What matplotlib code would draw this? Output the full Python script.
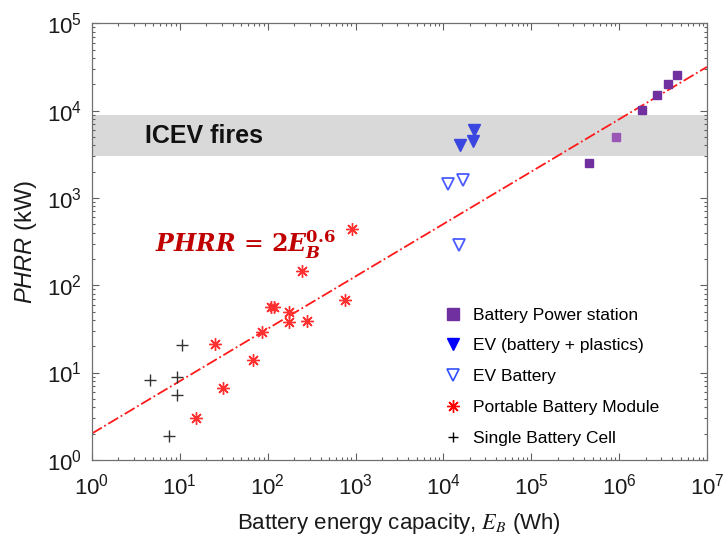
import matplotlib
matplotlib.use("Agg")
import matplotlib.pyplot as plt
import numpy as np
from matplotlib.lines import Line2D
from matplotlib.ticker import LogLocator, NullFormatter

plt.rcParams['font.family'] = ['Liberation Sans', 'DejaVu Sans']
plt.rcParams['mathtext.fontset'] = 'custom'
plt.rcParams['mathtext.rm'] = 'Liberation Sans'
plt.rcParams['mathtext.it'] = 'Liberation Sans:italic'
plt.rcParams['mathtext.bf'] = 'Liberation Sans:bold'

# ---- data ----
station_E = [4.55e5, 1.82e6, 2.7e6, 3.63e6, 4.56e6]
station_P = [2520, 10200, 15200, 20200, 25300]
station2_E = [9.15e5]
station2_P = [5000]

ev_full_E = [22300, 21800, 15400]
ev_full_P = [6070, 4540, 4060]

ev_batt_E = [11200, 16700, 15000]
ev_batt_P = [1450, 1610, 292]

module_E = [24.9, 31, 15.2, 68, 87, 109, 118, 174, 174, 277, 760, 247, 910]
module_P = [21, 6.6, 3.0, 14.1, 28.8, 55.6, 56.5, 48.8, 37.5, 38.8, 67, 145, 437]

cell_E = [10.7, 4.65, 9.2, 9.2, 7.6]
cell_P = [20.6, 8.2, 9.0, 5.5, 1.88]

icev_band = [3000, 8800]
fit_coef = 2.0
fit_exp = 0.6

fig = plt.figure(figsize=(7.23, 5.41), dpi=100)
ax = fig.add_axes([0.127, 0.150, 0.851, 0.807])
ax.set_xscale('log')
ax.set_yscale('log')
ax.set_xlim(1, 1e7)
ax.set_ylim(1, 1e5)

ax.axhspan(icev_band[0], icev_band[1], color='#D9D9D9', zorder=0, lw=0)
ax.text(4.0, np.sqrt(icev_band[0] * icev_band[1]), 'ICEV fires',
        fontsize=18, fontweight='bold', va='center', ha='left', color='#111111')

xf = np.logspace(0, 7, 200)
ax.plot(xf, fit_coef * xf ** fit_exp, color='#FF1A1A', lw=1.3, ls='-.', zorder=2)

ax.plot(station_E, station_P, 's', color='#7030A0', ms=6, zorder=3)
ax.plot(station2_E, station2_P, 's', color='#9A55B5', ms=6, zorder=3)
ax.plot(ev_full_E, ev_full_P, 'v', color='#3A46E0', ms=9, zorder=3)
ax.plot(ev_batt_E, ev_batt_P, 'v', mfc='none', mec='#4A5CFF', mew=1.3, ms=9, zorder=3)
ax.plot(module_E, module_P, ls='none', marker=(8, 2, 0), color='#FF3030', mew=1.0, ms=9, zorder=3)
ax.plot(cell_E, cell_P, '+', color='#333333', mew=1.0, ms=9, zorder=3)

ax.text(5.2, 238, r'$\mathbfit{PHRR}\,=\,\mathbf{2}\mathbfit{E}_{\mathbfit{B}}^{\mathbf{0.6}}$',
        fontsize=17, color='#C00000', math_fontfamily='dejavuserif', va='baseline')

handles = [
    Line2D([], [], ls='none', marker='s', color='#7030A0', ms=8),
    Line2D([], [], ls='none', marker='v', color='#0000FF', ms=8),
    Line2D([], [], ls='none', marker='v', mfc='none', mec='#3050FF', mew=1.2, ms=8),
    Line2D([], [], ls='none', marker=(8, 2, 0), color='#FF0000', mew=1.0, ms=9),
    Line2D([], [], ls='none', marker='+', color='black', mew=1.0, ms=7),
]
labels = ['Battery Power station', 'EV (battery + plastics)', 'EV Battery',
          'Portable Battery Module', 'Single Battery Cell']
leg = ax.legend(handles, labels, loc='upper left', bbox_to_anchor=(0.561, 0.365),
                frameon=False, fontsize=12.5, handlelength=1.0, handletextpad=0.7,
                labelspacing=0.9, borderaxespad=0)

ax.xaxis.set_major_locator(LogLocator(base=10, numticks=20))
ax.yaxis.set_major_locator(LogLocator(base=10, numticks=20))
ax.xaxis.set_minor_locator(LogLocator(base=10, subs=np.arange(2, 10), numticks=20))
ax.yaxis.set_minor_locator(LogLocator(base=10, subs=np.arange(2, 10), numticks=20))
ax.xaxis.set_minor_formatter(NullFormatter())
ax.yaxis.set_minor_formatter(NullFormatter())
ax.tick_params(which='both', direction='in', top=True, right=True, colors='#606060',
               labelcolor='#1a1a1a', width=0.8)
ax.tick_params(which='major', length=5, labelsize=16)
ax.tick_params(axis='x', which='major', pad=10)
ax.tick_params(axis='y', which='major', pad=7)
ax.tick_params(which='minor', length=2.5)
for s in ax.spines.values():
    s.set_color('#707070')
    s.set_linewidth(0.9)

ax.set_xlabel(r'Battery energy capacity, $E_B$ (Wh)', fontsize=16, color='#1a1a1a',
              labelpad=8)
ax.xaxis.get_label().set_math_fontfamily('stix')
ax.set_ylabel(r'$\mathit{PHRR}$ (kW)', fontsize=17, color='#1a1a1a', labelpad=6)

fig.savefig('out.png', dpi=100)
